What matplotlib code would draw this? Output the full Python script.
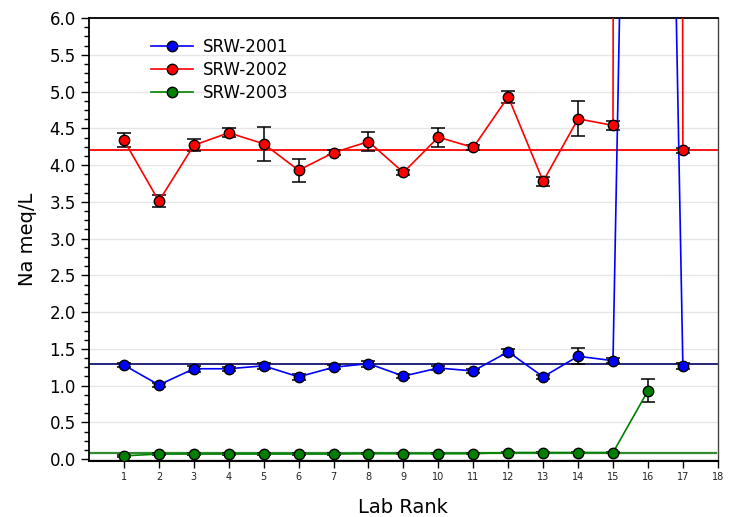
import numpy as np
import matplotlib
matplotlib.use("Agg")
import matplotlib.pyplot as plt
from matplotlib.ticker import MultipleLocator, AutoMinorLocator, FormatStrFormatter

# Lab rank vs Na (meq/L) for three reference samples
rank_2001 = [1, 2, 3, 4, 5, 6, 7, 8, 9, 10, 11, 12, 13, 14, 15, 16, 17]
na_2001 = [1.28, 1.01, 1.23, 1.23, 1.27, 1.12, 1.25, 1.30, 1.13, 1.24, 1.20,
           1.46, 1.12, 1.40, 1.34, 26.5, 1.27]
err_2001 = [0.03, 0.03, 0.04, 0.03, 0.04, 0.04, 0.03, 0.04, 0.03, 0.03, 0.03,
            0.04, 0.03, 0.11, 0.03, 0.0, 0.04]

rank_2002 = [1, 2, 3, 4, 5, 6, 7, 8, 9, 10, 11, 12, 13, 14, 15, 16, 17]
na_2002 = [4.34, 3.51, 4.27, 4.44, 4.29, 3.93, 4.17, 4.32, 3.90, 4.38, 4.24,
           4.93, 3.78, 4.63, 4.54, 300.0, 4.20]
err_2002 = [0.10, 0.08, 0.08, 0.06, 0.23, 0.16, 0.03, 0.13, 0.03, 0.13, 0.03,
            0.08, 0.06, 0.24, 0.06, 0.0, 0.03]

rank_2003 = [1, 2, 3, 4, 5, 6, 7, 8, 9, 10, 11, 12, 13, 14, 15, 16]
na_2003 = [0.045, 0.07, 0.07, 0.07, 0.07, 0.07, 0.07, 0.075, 0.075, 0.075,
           0.075, 0.09, 0.09, 0.09, 0.09, 0.93]
err_2003 = [0.01, 0.01, 0.01, 0.01, 0.01, 0.01, 0.01, 0.01, 0.01, 0.01,
            0.01, 0.01, 0.01, 0.01, 0.01, 0.155]

# median / reference values
ref_2001 = 1.30
ref_2002 = 4.21
ref_2003 = 0.085

fig = plt.figure(figsize=(7.32, 5.17), dpi=100)
ax = fig.add_axes([0.1216, 0.109, 0.859, 0.856])

ax.yaxis.grid(True, which="major", color="#e6e6e6", linewidth=1.0, zorder=0)
ax.set_axisbelow(True)

ax.axhline(ref_2002, color="red", linewidth=1.3, zorder=2)
ax.axhline(ref_2001, color="#15156e", linewidth=1.3, zorder=2)
ax.plot([0, 17.95], [ref_2003, ref_2003], color="#2e8b2e", linewidth=1.6, zorder=2)

series = [
    (rank_2001, na_2001, err_2001, "blue", "SRW-2001"),
    (rank_2002, na_2002, err_2002, "red", "SRW-2002"),
    (rank_2003, na_2003, err_2003, "green", "SRW-2003"),
]
for x, y, e, c, lab in series:
    ax.errorbar(x, y, yerr=e, fmt="none", ecolor="black", elinewidth=1.1,
                capsize=5, capthick=1.1, zorder=3)
    ax.plot(x, y, color=c, linewidth=1.2, marker="o", markersize=7.5,
            markerfacecolor=c, markeredgecolor="black", markeredgewidth=1.0,
            label=lab, zorder=4)

ax.set_xlim(0, 18)
ax.set_ylim(-0.02, 6.0)
ax.set_xticks(range(1, 19))
ax.yaxis.set_major_locator(MultipleLocator(0.5))
ax.yaxis.set_minor_locator(AutoMinorLocator(4))
ax.yaxis.set_major_formatter(FormatStrFormatter("%.1f"))

ax.tick_params(axis="x", labelsize=7, length=5, width=1, direction="out", labelcolor="#222222")
ax.tick_params(axis="y", which="major", labelsize=12, length=6, width=1, direction="out")
ax.tick_params(axis="y", which="minor", length=3.5, width=1, direction="out")

ax.spines["left"].set_linewidth(1.3)
ax.spines["bottom"].set_linewidth(1.5)
ax.spines["top"].set_linewidth(1.3)
ax.spines["right"].set_linewidth(1.0)
ax.spines["right"].set_color("#444444")

ax.set_xlabel("Lab Rank", fontsize=14, labelpad=11)
ax.set_ylabel("Na meq/L", fontsize=14, labelpad=9)

ax.legend(loc="upper left", bbox_to_anchor=(0.075, 0.99), frameon=False,
          fontsize=12, handlelength=2.5, handletextpad=0.6, labelspacing=0.3)

fig.savefig("out.png", dpi=100)
